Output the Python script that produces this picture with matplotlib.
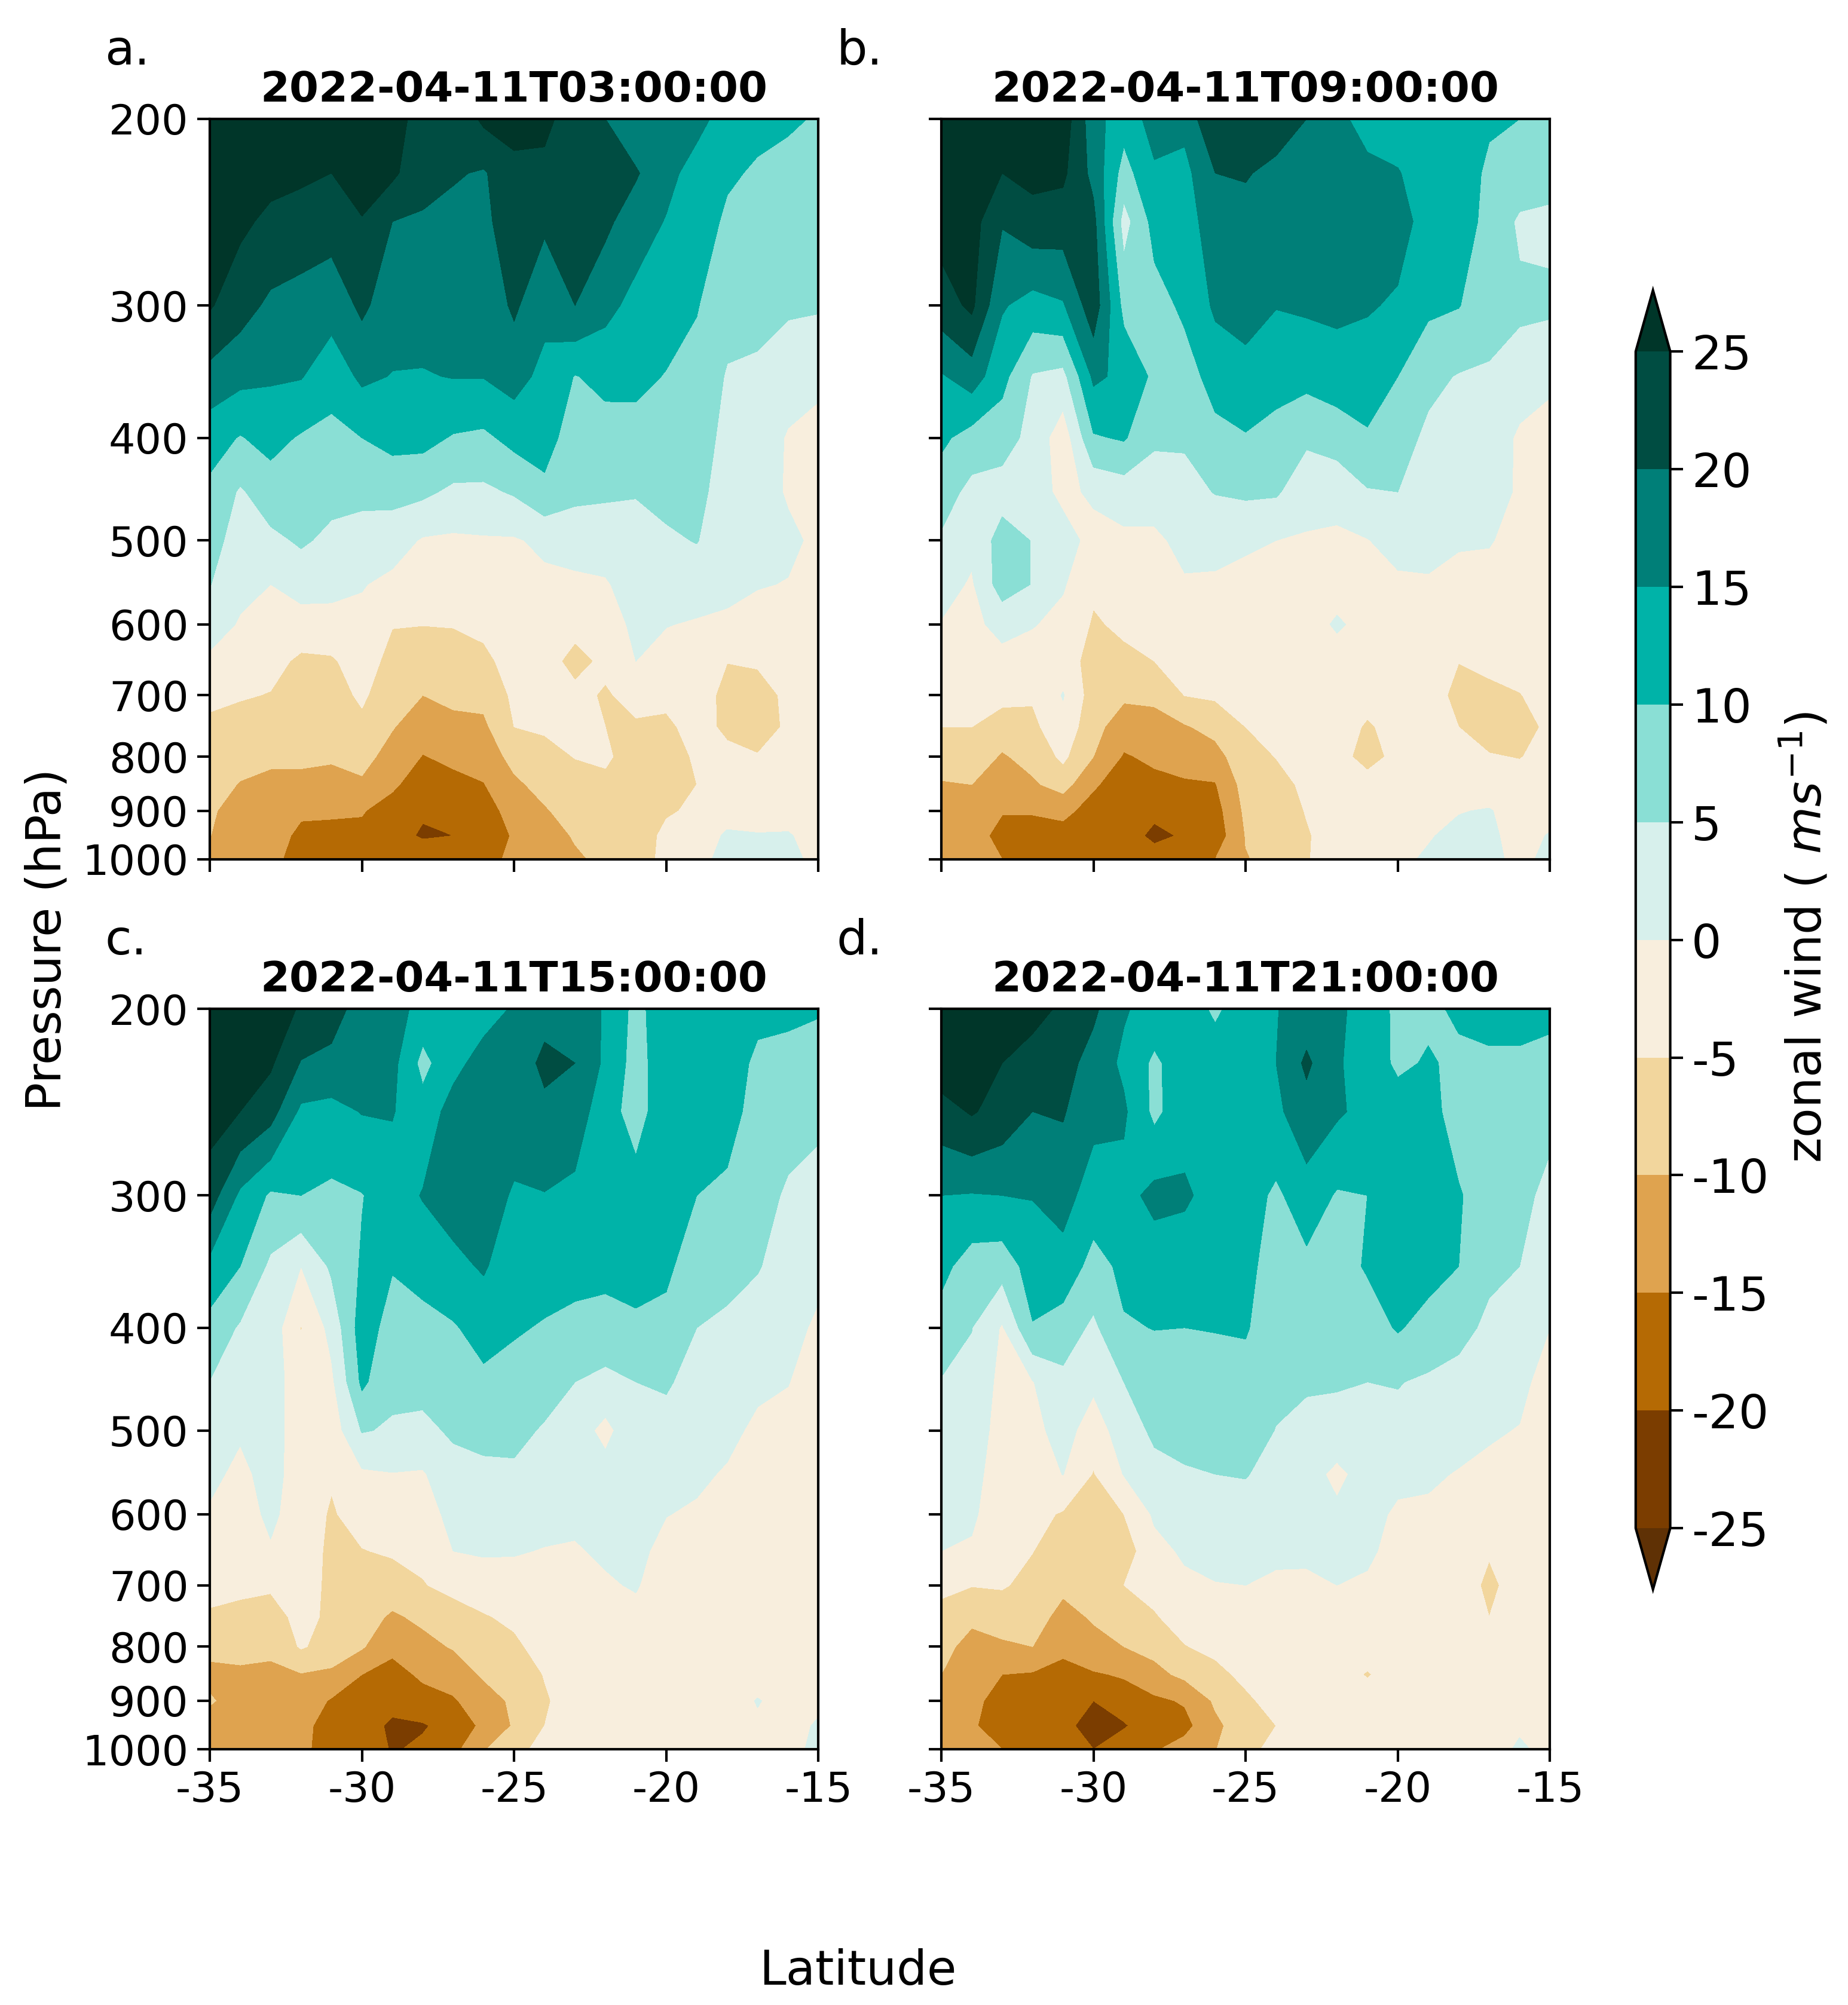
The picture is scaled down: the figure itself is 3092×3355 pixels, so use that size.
import numpy as np
import matplotlib
matplotlib.use("Agg")
import matplotlib.pyplot as plt
from matplotlib.colors import ListedColormap, BoundaryNorm

plt.rcParams["axes.unicode_minus"] = False
plt.rcParams["font.family"] = "DejaVu Sans"

lats = [-35, -34, -33, -32, -31, -30, -29, -28, -27, -26, -25, -24, -23, -22, -21, -20, -19, -18, -17, -16, -15]
pressure = [200, 225, 250, 300, 350, 400, 450, 500, 550, 600, 650, 700, 750, 800, 850, 900, 950, 1000]
levels = [-25, -20, -15, -10, -5, 0, 5, 10, 15, 20, 25]
titles = ["2022-04-11T03:00:00", "2022-04-11T09:00:00", "2022-04-11T15:00:00", "2022-04-11T21:00:00"]
letters = ["a.", "b.", "c.", "d."]
xticks = [-35, -30, -25, -20, -15]
yticks = [200, 300, 400, 500, 600, 700, 800, 900, 1000]

band_colors = ["#7b3d00", "#b56a04", "#dfa34f", "#f2d69d", "#f8eedd",
               "#d7f0ec", "#8adfd5", "#00b3a8", "#007f78", "#004d42"]
under_color = "#5f3105"
over_color = "#003629"

# one list per latitude, 200 hPa down to 1000 hPa
wind_a = [
    [27, 27, 27, 25.5, 18.3, 12, 8.9, 7, 5.2, 2, -0.8, -3.9, -6, -7.5, -8.5, -9.5, -9.9, -10.2],
    [28, 27, 26, 22, 16.4, 9.7, 4.4, 2.7, 1.1, -0.4, -2.7, -4.6, -6.8, -8.7, -10.2, -11.5, -12.5, -13],
    [27, 26.5, 23.9, 19, 15.6, 11.6, 7.6, 3.9, 0, -1.9, -3.6, -5.2, -7.4, -9.3, -10.9, -12, -13, -14],
    [28, 26, 22.7, 18.2, 15.3, 9.5, 7.4, 5.6, 2.3, -2.5, -5.8, -7.1, -8.3, -9.4, -10.8, -14.3, -16, -16.5],
    [28, 25, 22, 17, 12, 8.6, 6.3, 4, 1.5, -1.8, -5.6, -7, -8.3, -9.4, -11.7, -14.5, -16, -16.5],
    [28, 26.5, 24.8, 21, 16, 10, 6.2, 3, 0.3, -1.3, -2.7, -4.2, -6.2, -8.3, -10.8, -14.7, -16, -16.5],
    [27.5, 26, 20, 17.2, 14.8, 11.6, 6.5, 2.3, -1.3, -4.8, -6.5, -8, -9.7, -12, -14.2, -17, -18.5, -19],
    [22.5, 21.5, 19.5, 17, 14.7, 11.5, 6, -0.5, -2.8, -4.9, -7.5, -10, -12.8, -15.2, -17.5, -19.5, -20.5, -17],
    [21, 20.5, 18.5, 16.5, 15.2, 9.6, 4, -0.8, -2.8, -4.8, -6.8, -9, -11.2, -14, -16.3, -18, -20, -18],
    [26, 19.5, 18.7, 16.8, 15.2, 9, 4, -0.5, -2.6, -4, -6, -8.6, -11, -13, -15.2, -17, -18, -16.5],
    [27, 23.5, 23.2, 20.8, 17, 11.5, 5.5, -0.5, -1.3, -2.3, -3.3, -4.1, -5, -8.4, -11, -13.2, -14.5, -14],
    [26, 24, 20.8, 16.5, 13.5, 12, 8.8, 1, -1.1, -2.2, -3.1, -3.9, -4.6, -6, -8.3, -10.5, -13, -12],
    [23, 22.5, 21.5, 20, 9.8, 7.5, 6, 2.5, -1.2, -3.5, -6.5, -3.8, -4.5, -4.9, -6.2, -7.8, -9.4, -11],
    [20, 22, 21, 16.5, 11.3, 8, 5.7, 2.4, -0.5, -2.4, -4, -5.5, -5, -4.5, -5.7, -7, -8, -8.5],
    [16.5, 20.5, 17.5, 13.4, 11, 8.5, 5.2, 3.7, 2.4, 1.1, 0, -3.5, -5.6, -6.5, -7.3, -8, -8.5, -8.5],
    [18, 16.5, 14.7, 11.8, 9.8, 8, 6.3, 4.3, 2.2, 0.2, -2, -4, -5.8, -7, -7, -5.7, -3.5, -3],
    [16.5, 13, 13, 10.3, 8.3, 7, 6.2, 5.2, 2.5, -0.5, -1.5, -2.5, -3.5, -4.4, -5, -4, -2, -1.5],
    [13, 10.8, 9, 6.7, 4.6, 3.8, 3, 2.2, 1, -0.7, -4.9, -6.5, -5.8, -4, -2.5, -1.5, 0.5, 1.5],
    [11.5, 9.3, 8.2, 6, 4.4, 3.2, 2.2, 1.3, 0.3, -2, -4.7, -6, -6.5, -4.8, -3, -1.5, 0.2, 0.5],
    [10.8, 8.2, 7.5, 5.6, 2.5, -0.5, -0.5, 1, -0.2, -1.5, -3, -4.5, -4.5, -4, -3, -1.5, 0.3, 1],
    [9.5, 8, 7, 5.5, 1, -1.5, -1.5, -1, -1.5, -2, -2.5, -3, -3, -3, -2.5, -2, -1.5, -1],
]

wind_b = [
    [28, 28, 27, 22.7, 14.5, 11, 7.4, 4.3, 2, -0.3, -2, -3.5, -5, -7.7, -10.4, -12, -13, -14],
    [28, 27.5, 27, 26, 17.5, 8, 3.5, 1.3, -0.6, -1.2, -2.7, -4, -5, -7.3, -10, -12.5, -13, -14],
    [28, 25, 20.4, 15.5, 11.6, 7, 3, 7, 7.5, 1.5, -1.5, -3.5, -7.5, -10.5, -13, -14.7, -16.5, -15],
    [28, 26.5, 23, 13, 4.6, 3.5, 2.8, 4.8, 4.8, 0.3, -2.3, -4.4, -6.2, -8.4, -10.7, -14.8, -16, -16.5],
    [28, 26, 22.5, 14.5, 3.5, -3, -1.5, 2.5, 0.5, -1.5, -2.5, 0.3, -1.5, -4, -8, -14, -16.5, -17],
    [17, 18.5, 21.5, 23, 16, 9.5, 1, -2, -4.2, -5.5, -7, -7.5, -8.5, -10, -14.5, -16.5, -18, -18],
    [12, 8, 3, 8.5, 13.8, 10.5, 2.3, -1, -2.5, -4.2, -6, -9.2, -12.5, -15.5, -17, -18, -18, -17],
    [17, 14.3, 11.7, 8, 9, 5.8, 2.3, -1, -2.5, -3.8, -5, -9, -11.8, -14, -16.4, -19, -21, -18],
    [16.5, 13.5, 12.5, 11, 7.8, 5.6, 3.4, 1.4, -0.5, -2, -3.5, -4.9, -10.5, -13.3, -15.5, -17.5, -19.5, -17.5],
    [25, 20, 18, 15.8, 12, 8.5, 5.2, 1.5, -0.7, -1.8, -3, -4.3, -8.3, -12, -15.3, -17, -18, -15],
    [25, 20.3, 18.7, 16.5, 13.7, 9.6, 5.9, 0.5, -1, -2.2, -3.2, -4, -5, -6.5, -8, -9, -9.8, -10.2],
    [22, 19, 17.8, 15.2, 11.5, 8.6, 5.6, 0, -1, -1.9, -2.7, -3.4, -4.2, -4.9, -6.3, -8, -9, -9],
    [20, 19, 17.5, 15.7, 11.5, 5.8, 2, -0.5, -1.5, -2, -2.5, -3, -3.4, -3.8, -4.2, -4.7, -5.5, -5.5],
    [16, 17.5, 18, 16, 12.8, 7, 2, -1, -2, 0.6, -2, -3, -3, -3, -3, -2, -2.5, -1.5],
    [13.5, 16, 17, 15.5, 12.2, 9.5, 4.6, -0.2, -1, -1.5, -2.5, -3.5, -5.5, -7, -2.8, -1.5, -1, -0.5],
    [12.5, 15.3, 17, 14.3, 10, 7, 5, 2, -1, -2, -2.8, -3, -3.5, -3.5, -2.5, -1.8, -1.5, -0.8],
    [12, 12.5, 13, 11, 6.2, 4, 3, 1.5, -0.5, -1.5, -2, -2.5, -2.8, -3, -2.5, -1.5, -0.3, 0.5],
    [13, 12, 12.5, 10.2, 4.7, 3.2, 2, 0.5, -1.5, -3, -4.9, -6.5, -5, -3, -1.5, -0.2, 1, 1.5],
    [10.5, 9.3, 8.5, 7, 4.4, 3, 1.6, 0.2, -1, -2.5, -4, -6, -7, -4.7, -2.5, 0.3, 0.8, 1],
    [10, 8, 4.2, 6, 2.5, -0.8, -0.5, -1, -1.5, -2, -3, -5.2, -6.3, -5.2, -3, -2, -1.5, -1],
    [8.5, 7, 3.8, 6, 0.5, -1, -1.5, -1.5, -2, -2.3, -2.5, -3, -4.3, -3.5, -2.5, -1.5, 0.3, 1],
]

wind_c = [
    [28, 28, 27, 22.5, 13.5, 8.3, 4.9, 2.9, 1, -0.5, -2.2, -3.8, -5.5, -8.7, -11.2, -9.5, -12, -13],
    [28, 27, 25, 14, 10, 4.4, 2.7, 0.5, -1, -2.2, -3.2, -4.2, -6, -8.5, -10.8, -12, -13, -13.5],
    [27.5, 25.7, 22, 9.3, 4, 3, 2.5, 2, 1.5, 1, -0.5, -4.3, -7, -9, -11, -12.5, -13.5, -14],
    [24.5, 19.7, 14, 10, 0, -5.2, -3, -2.5, -2, -2.5, -2.5, -3, -3.5, -4.5, -10.3, -12, -14, -14.5],
    [22.5, 18.5, 13.5, 9, 5.8, 1.5, -1, -2.8, -4.5, -5.5, -6, -6, -6, -7, -11, -15.5, -16.5, -16],
    [17.5, 16.5, 15.2, 9.8, 10.5, 12.5, 11, 5.3, -0.8, -3, -5.2, -6.5, -8, -9.5, -15, -16.5, -18, -16.5],
    [17.5, 16.5, 15.3, 12.5, 10.3, 8, 6, 4.5, -0.2, -2.5, -4.4, -7.3, -10.7, -14, -16.5, -18.5, -20.8, -20.5],
    [13, 8.5, 12, 15.3, 11.7, 8.5, 6.3, 4, -0.5, -2.4, -3.8, -5.3, -9, -11.5, -14.3, -16.5, -20.5, -19],
    [13, 13.5, 17, 17, 13.8, 9.5, 7, 5.6, 3.5, 1.6, 0, -3.5, -7.3, -9.6, -13, -15.5, -18, -16.5],
    [13, 17, 19, 18, 15.5, 12, 8.9, 6.3, 4, 2.2, 0.5, -2.3, -5.4, -7.5, -9.3, -12.5, -14, -10.5],
    [15.5, 17.5, 18, 14.3, 12.2, 10.5, 8.2, 6.3, 4.2, 2.2, 0.3, -1.7, -4, -6, -7.7, -9, -9.5, -5.5],
    [18.5, 21, 19, 14.8, 12, 9.6, 7, 4.5, 2.8, 1.4, -0.2, -1.2, -2, -3, -4.8, -5.5, -5, -4.5],
    [18, 20, 17.7, 13.8, 11.5, 8.8, 5, 2.5, 1.5, 0.7, -0.3, -1.2, -2, -2.5, -2.7, -3, -3, -3],
    [14.5, 14, 12, 13, 11.5, 8, 3.7, -1.5, 2, 1.2, 0.5, -0.4, -1.3, -2, -2.5, -2.5, -2.5, -2.5],
    [8.5, 8, 8, 12, 11, 9.5, 5, 3.8, 2.8, 1.8, 1, 0.3, -1, -1.5, -2, -2, -2, -2],
    [13, 13, 13, 12.5, 11, 8.5, 5.5, 3.5, 1.8, 0.1, -1.2, -2, -2.5, -2.5, -2.5, -2.5, -2.5, -2.5],
    [13, 13, 12.5, 10, 7.2, 5, 3.4, 2, 0.7, -0.5, -1.5, -2, -2.5, -2.5, -2.5, -2.5, -2.5, -2.5],
    [12.5, 12, 11.5, 9.2, 6.3, 4.2, 2.7, 1, -0.4, -1.5, -2, -2.5, -3, -3, -2.5, -2.5, -2.5, -2.5],
    [11, 9.2, 8.5, 6.7, 5.3, 2.8, 0.8, -0.8, -1.5, -2, -2, -2, -2.5, -2.5, -2.3, 0.3, -0.8, -2],
    [11, 8.5, 6.7, 4.4, 3, 1.3, 0.1, -1, -1.5, -2, -2, -2, -2, -2, -2, -2, -1.5, -1],
    [10.3, 8.5, 6, 3.3, 1, -0.7, -1.5, -2, -2.2, -2.3, -2.5, -2.5, -2.5, -2.5, -2, -1, 0.5, 0.8],
]

wind_d = [
    [28, 28, 23, 15, 11.5, 7.8, 4.7, 3.4, 2, 1, 0, -3.9, -6.5, -8.5, -10, -11, -12, -13],
    [28, 28, 25.5, 14.7, 7.5, 5.1, 3.8, 2.7, 1.6, 0.8, -0.6, -4.8, -9, -11.7, -13, -14, -14.5, -14],
    [28, 25, 23, 15, 7, -0.5, -1.5, -2, -2.5, -3, -3.5, -4.5, -8, -10.7, -15, -16.5, -17, -15],
    [27, 22.5, 20, 15.2, 12.3, 9.7, -0.2, -1.5, -2.7, -3.5, -4.9, -6.5, -8, -10, -15.5, -16.8, -17.5, -17],
    [24, 22, 20.4, 17, 13, 7.8, 3.7, 2, 0.1, -5.5, -7.5, -9, -11.5, -14, -16.4, -18, -19, -18],
    [21, 18, 16.5, 12.5, 8.3, 4, 1, -2.5, -5.3, -6.8, -7.7, -8.5, -9.5, -11.5, -15.5, -20, -21.5, -20],
    [15.5, 14, 15.8, 13.2, 11, 9.6, 5, 2.5, 0.2, -5, -7.5, -5, -6, -10, -14.5, -17.5, -20.5, -17],
    [13, 9, 8.8, 16.5, 12, 10.1, 7.9, 5.9, 3.5, 0.7, -1.5, -3.5, -5.4, -8.5, -11.5, -16, -17, -15.5],
    [13, 13, 13, 15.8, 12, 10, 7.8, 6, 4.7, 2.3, 0.7, -1, -3, -5.2, -8.8, -14.5, -16.5, -13],
    [9, 13, 14, 13, 12, 10.2, 8, 6.5, 5, 3, 1.5, -0.2, -2, -3.7, -6.5, -9.3, -11, -10.2],
    [13, 13, 13, 12.5, 11.5, 10.5, 8, 6.5, 5.3, 2.7, 1.5, 0, -1.5, -2.5, -3.7, -6, -7.5, -6.5],
    [14.8, 15, 14, 9, 7.6, 6.7, 5.8, 4.9, 3, 2, 0.8, -0.7, -1.5, -2, -2.5, -3, -5, -3.5],
    [17, 21, 18, 13, 8.7, 7, 5.5, 3.8, 2.5, 1.7, 0.5, -0.5, -1, -1.5, -2, -2, -2, -2],
    [15.5, 15.5, 15.7, 9.5, 8, 6.8, 5.3, 3.8, -1.5, 1.2, 0.3, 0, -1.5, -2, -2, -2, -2, -2],
    [14, 13, 13.5, 10, 10.5, 7.5, 5, 3.7, 2.5, 1, 0.5, -0.4, -1.5, -2, -5.5, -2, -2, -2],
    [8.5, 9, 12.5, 13, 13, 10.5, 5.2, 3.8, 0.8, -0.5, -1, -1.5, -2, -2, -2, -2, -2, -2],
    [9, 10.5, 12, 13, 12, 8, 4.3, 3, 0.7, -0.8, -1.5, -2, -2.5, -2.5, -2.5, -2, -2, -2],
    [10.8, 9, 7.5, 10.5, 10, 6.2, 3.7, 1.7, -0.3, -1.5, -2, -2.5, -2.5, -2.5, -2.5, -2, -2, -1.5],
    [11, 9.5, 8.2, 7, 5.8, 4.2, 2.2, 0.5, -1, -2, -4.6, -6, -5, -2.8, -2, -2, -2, -1.5],
    [11, 9.5, 8, 6.5, 5, 3, 1.2, -0.2, -1, -1.5, -2.5, -3, -3, -2.5, -2, -1.5, -0.5, 0.5],
    [10.8, 9, 6.4, 3.5, 1.8, 0, -2, -3, -3, -3, -3, -3, -3, -2.5, -2.5, -5.3, -3, -1],
]

W, H = 1445.0, 1568.0
panel_boxes = [(164, 93), (736, 93), (164, 789), (736, 789)]
panel_w, panel_h = 476.0, 579.0

cmap = ListedColormap(band_colors)
cmap.set_under(under_color)
cmap.set_over(over_color)
norm = BoundaryNorm(levels, cmap.N)

fig = plt.figure(figsize=(3092 / 300, 3355 / 300))

for i, wind in enumerate([wind_a, wind_b, wind_c, wind_d]):
    x0, y0 = panel_boxes[i]
    ax = fig.add_axes([x0 / W, 1 - (y0 + panel_h) / H, panel_w / W, panel_h / H])
    cf = ax.contourf(lats, pressure, np.array(wind).T, levels=levels, cmap=cmap, norm=norm, extend="both")
    ax.set_yscale("log")
    ax.set_ylim(1000, 200)
    ax.set_xlim(-35, -15)
    ax.set_xticks(xticks)
    ax.set_yticks(yticks)
    ax.minorticks_off()
    if i >= 2:
        ax.set_xticklabels([str(t) for t in xticks])
    else:
        ax.set_xticklabels([])
    if i % 2 == 0:
        ax.set_yticklabels([str(t) for t in yticks])
    else:
        ax.set_yticklabels([])
    ax.tick_params(labelsize=16.8, width=1.0, length=5)
    ax.set_title(titles[i], fontsize=16.9, fontweight="bold", pad=7)
    for s in ax.spines.values():
        s.set_linewidth(1.0)
    fig.text((x0 - 82) / W, 1 - (y0 - 53) / H, letters[i], fontsize=19.5, ha="left", va="center")

# axes box runs from tip to tip of the extensions
cax = fig.add_axes([1279 / W, 1 - 1243 / H, 27 / W, 1016 / H])
cb = fig.colorbar(cf, cax=cax, ticks=levels, extendfrac=0.052)
cb.ax.set_yticklabels([str(t) for t in levels])
cb.ax.tick_params(labelsize=19, width=1.0, length=5)
cb.outline.set_linewidth(1.0)
fig.text(1412 / W, 1 - 733 / H, "zonal wind ( $ms^{-1}$)", rotation=90, fontsize=19.5, ha="center", va="center")

fig.text(37 / W, 1 - 735 / H, "Pressure (hPa)", rotation=90, fontsize=19.2, ha="center", va="center")
fig.text(671 / W, 1 - 1542 / H, "Latitude", fontsize=19.3, ha="center", va="center")

fig.savefig("out.png", dpi=300)
plt.close(fig)
